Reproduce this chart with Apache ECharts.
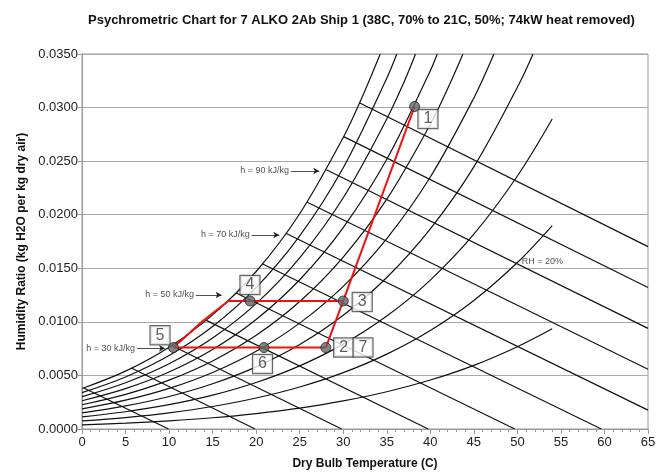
<!DOCTYPE html>
<html><head><meta charset="utf-8">
<script src="https://cdn.jsdelivr.net/npm/echarts@6/dist/echarts.min.js"></script>
<style>html,body{margin:0;padding:0;background:#fff}#c{width:666px;height:473px}</style>
</head><body><div id="c"></div>
<script>
// ---- data ----
const titleText = 'Psychrometric Chart for 7 ALKO 2Ab Ship 1 (38C, 70% to 21C, 50%; 74kW heat removed)';
const xName = 'Dry Bulb Temperature (C)';
const yName = 'Humidity Ratio (kg H2O per kg dry air)';

// relative humidity curves [dry bulb C, humidity ratio]
const rh100 = [[0,0.00378],[5,0.00540],[10,0.00763],[15,0.01065],[20,0.01470],[25,0.02009],[30,0.02721],[32,0.03066],[34.25,0.0350]];
const rh90  = [[0,0.00340],[5,0.00486],[10,0.00686],[15,0.00957],[20,0.01320],[25,0.01802],[30,0.02438],[35,0.03274],[36.15,0.0350]];
const rh80  = [[0,0.00302],[5,0.00432],[10,0.00609],[15,0.00849],[20,0.01170],[25,0.01597],[30,0.02158],[35,0.02893],[37,0.03242],[38.3,0.0350]];
const rh70  = [[0,0.00264],[5,0.00377],[10,0.00532],[15,0.00742],[20,0.01022],[25,0.01393],[30,0.01880],[35,0.02517],[40,0.03344],[40.8,0.0350]];
const rh60  = [[0,0.00226],[5,0.00323],[10,0.00456],[15,0.00635],[20,0.00874],[25,0.01190],[30,0.01605],[35,0.02145],[40,0.02844],[42,0.03178],[43.75,0.0350]];
const rh50  = [[0,0.00188],[5,0.00269],[10,0.00379],[15,0.00528],[20,0.00726],[25,0.00988],[30,0.01331],[35,0.01777],[40,0.02352],[45,0.03090],[47.3,0.0350]];
const rh40  = [[0,0.00151],[5,0.00215],[10,0.00303],[15,0.00422],[20,0.00580],[25,0.00788],[30,0.01061],[35,0.01414],[40,0.01868],[45,0.02447],[50,0.03189],[51.8,0.0350]];
const rh30  = [[0,0.00113],[5,0.00161],[10,0.00227],[15,0.00316],[20,0.00434],[25,0.00589],[30,0.00792],[35,0.01054],[40,0.01390],[45,0.01818],[50,0.02361],[54,0.02893]];
const rh20  = [[0,0.00075],[5,0.00107],[10,0.00151],[15,0.00210],[20,0.00289],[25,0.00392],[30,0.00526],[35,0.00699],[40,0.00920],[45,0.01200],[50,0.01554],[54,0.01899]];
const rh10  = [[0,0.00038],[5,0.00054],[10,0.00076],[15,0.00105],[20,0.00144],[25,0.00195],[30,0.00262],[35,0.00348],[40,0.00457],[45,0.00594],[50,0.00768],[54,0.00935]];

// constant enthalpy lines (10 ... 110 kJ/kg)
const h10  = [[0.2,0.00383],[9.94,0]];
const h20  = [[5.73,0.00567],[19.88,0]];
const h30  = [[10.35,0.00777],[29.82,0]];
const h40  = [[14.27,0.01014],[39.76,0]];
const h50  = [[17.7,0.01270],[49.70,0]];
const h60  = [[20.7,0.01543],[59.64,0]];
const h70  = [[23.46,0.01824],[65,0.00176]];
const h80  = [[25.87,0.02117],[65,0.00557]];
const h90  = [[28.06,0.02420],[65,0.00939]];
const h100 = [[30.05,0.02729],[65,0.01320]];
const h110 = [[31.9,0.03042],[65,0.01702]];

// process states
const pointNames = ['1','2','3','4','5','6'];
const pointT = [38.2, 28.0, 30.0, 19.3, 10.5, 20.9];
const pointW = [0.0301, 0.0076, 0.01195, 0.01195, 0.0076, 0.0076];

// red process paths
const pathA = [[10.5,0.0076],[13.9,0.0101],[16.8,0.01195],[19.3,0.01195],[30.0,0.01195]];
const pathB = [[10.5,0.0076],[20.9,0.0076],[28.0,0.0076]];
const pathC = [[28.0,0.0076],[30.0,0.01195],[38.2,0.0301]];

const hLabelTexts = ['h = 30 kJ/kg','h = 50 kJ/kg','h = 70 kJ/kg','h = 90 kJ/kg'];
const rhLabelText = 'RH = 20%';

// ---- build chart ----
const rhCurves = [rh100, rh90, rh80, rh70, rh60, rh50, rh40, rh30, rh20, rh10];
const hLines = [h10, h20, h30, h40, h50, h60, h70, h80, h90, h100, h110];
const FONT = 'Liberation Sans, Arial, sans-serif';

const series = [];
rhCurves.forEach(d => series.push({
  type:'line', data:d, smooth:0.35, symbol:'none', silent:true, z:2,
  lineStyle:{color:'#111', width:1.2}
}));
hLines.forEach(d => series.push({
  type:'line', data:d, symbol:'none', silent:true, z:2,
  lineStyle:{color:'#111', width:1.2}
}));
[pathA, pathB, pathC].forEach(d => series.push({
  type:'line', data:d, symbol:'none', silent:true, z:4,
  lineStyle:{color:'#f01010', width:2}
}));

// annotation anchors (data coordinates of text ends / arrow tips)
const hTextEnd = [[6.2,0.00753],[12.98,0.01251],[19.37,0.01811],[23.89,0.02408]];
const hArrowTip = [9.53,16.04,22.66,27.25];

series.push({
  type:'scatter', symbolSize:0, silent:true, z:5,
  data: hTextEnd.map((p,i)=>({value:p, name:hLabelTexts[i]})),
  label:{show:true, position:'left', distance:1, formatter:p=>p.name,
         fontFamily:FONT, fontSize:9, color:'#222'},
  markLine:{
    silent:true, symbol:['none','arrow'], symbolSize:[5,6],
    label:{show:false},
    lineStyle:{color:'#222', width:0.8, type:'solid'},
    data: hTextEnd.map((p,i)=>[{coord:[p[0]+0.1,p[1]]},{coord:[hArrowTip[i],p[1]]}])
  }
});
series.push({
  type:'scatter', symbolSize:0, silent:true, z:5,
  data:[{value:[50.5,0.01562], name:rhLabelText}],
  label:{show:true, position:'right', distance:0, formatter:p=>p.name,
         fontFamily:FONT, fontSize:9, color:'#222'}
});
// markers
series.push({
  type:'scatter', symbol:'circle', symbolSize:10, silent:true, z:6,
  data: pointT.map((t,i)=>[t, pointW[i]]),
  itemStyle:{color:'#666', borderColor:'#222', borderWidth:1}
});
// number boxes
const boxAnchors = [[39.73,0.02893],[30.05,0.00761],[32.18,0.01185],[19.29,0.01344],[8.96,0.00875],[20.73,0.00607],[32.27,0.00761]];
const boxTexts = pointNames.concat(['7']);
series.push({
  type:'scatter', symbolSize:0, silent:true, z:7,
  data: boxAnchors.map((p,i)=>({value:p, name:boxTexts[i]})),
  label:{show:true, position:'inside', formatter:p=>p.name,
         fontFamily:FONT, fontSize:16, color:'#333',
         backgroundColor:'#fff', borderColor:'#444', borderWidth:1.2,
         padding:[1,5,0,5], lineHeight:17}
});

const chart = echarts.init(document.getElementById('c'), null, {renderer:'canvas'});
chart.setOption({
  animation:false,
  backgroundColor:'#fff',
  title:{text:titleText, left:83, top:9,
         textStyle:{fontFamily:FONT, fontSize:13, fontWeight:'bold', color:'#111'}},
  grid:{left:82, right:18, top:54, bottom:44, show:true, borderColor:'#999', borderWidth:1,
        backgroundColor:'transparent', containLabel:false, outerBoundsMode:'none'},
  xAxis:{type:'value', min:0, max:65, interval:5,
    name:xName, nameLocation:'middle', nameGap:29,
    nameTextStyle:{fontFamily:FONT, fontSize:12, fontWeight:'bold', color:'#111'},
    axisLine:{show:true, onZero:false, lineStyle:{color:'#999', width:1}},
    axisTick:{show:true, length:5, lineStyle:{color:'#999'}},
    minorTick:{show:true, splitNumber:5, length:3, lineStyle:{color:'#999'}},
    splitLine:{show:false},
    axisLabel:{fontFamily:FONT, fontSize:13, color:'#222', margin:7}
  },
  yAxis:{type:'value', min:0, max:0.035, interval:0.005,
    name:yName, nameLocation:'middle', nameGap:54, nameRotate:90,
    nameTextStyle:{fontFamily:FONT, fontSize:12, fontWeight:'bold', color:'#111'},
    axisLine:{show:true, onZero:false, lineStyle:{color:'#999', width:1}},
    axisTick:{show:true, length:4, lineStyle:{color:'#999'}},
    splitLine:{show:true, lineStyle:{color:'#a8a8a8', width:1}},
    axisLabel:{fontFamily:FONT, fontSize:13, color:'#222', margin:4, formatter:v=>v.toFixed(4)}
  },
  series:series
});
</script></body></html>
